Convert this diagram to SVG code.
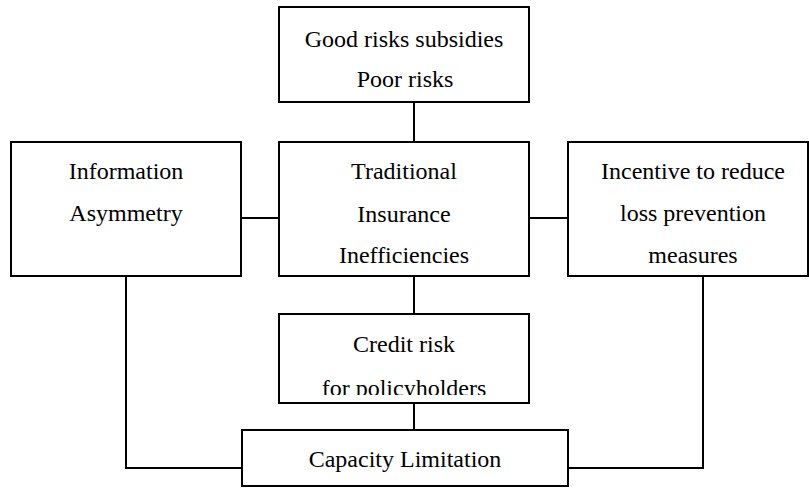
<svg xmlns="http://www.w3.org/2000/svg" width="809" height="488" viewBox="0 0 809 488">
  <style>
    .box { fill: #ffffff; stroke: #000000; stroke-width: 2; }
    .wire { fill: none; stroke: #000000; stroke-width: 2; }
    text { font-family: 'Liberation Serif', 'Times New Roman', Times, 'DejaVu Serif', serif; font-size: 24px; fill: #000000; text-anchor: middle; }
  </style>
  <defs>
    <clipPath id="credit-clip">
      <rect x="280" y="315" width="248" height="80"/>
    </clipPath>
  </defs>
  <rect width="809" height="488" fill="#ffffff"/>

  <g id="connectors">
    <line class="wire" x1="414" y1="102" x2="414" y2="142"/>
    <line class="wire" x1="241" y1="218" x2="279" y2="218"/>
    <line class="wire" x1="529" y1="218" x2="568" y2="218"/>
    <line class="wire" x1="414" y1="276" x2="414" y2="314"/>
    <line class="wire" x1="414" y1="403" x2="414" y2="430"/>
    <polyline class="wire" points="126,276 126,468 242,468"/>
    <polyline class="wire" points="703,276 703,468 568,468"/>
  </g>

  <g id="node-subsidies">
    <rect class="box" x="279" y="7" width="250" height="95"/>
    <text x="404" y="47">Good risks subsidies</text>
    <text x="405" y="87">Poor risks</text>
  </g>

  <g id="node-information">
    <rect class="box" x="11" y="142" width="230" height="134"/>
    <text x="126" y="179">Information</text>
    <text x="126" y="221">Asymmetry</text>
  </g>

  <g id="node-traditional">
    <rect class="box" x="279" y="142" width="250" height="134"/>
    <text x="404" y="179">Traditional</text>
    <text x="404" y="222">Insurance</text>
    <text x="404" y="263">Inefficiencies</text>
  </g>

  <g id="node-incentive">
    <rect class="box" x="568" y="142" width="240" height="134"/>
    <text x="693" y="179">Incentive to reduce</text>
    <text x="693" y="221">loss prevention</text>
    <text x="693" y="263">measures</text>
  </g>

  <g id="node-credit">
    <rect class="box" x="279" y="314" width="250" height="89"/>
    <text x="404" y="352">Credit risk</text>
    <text x="404" y="396" clip-path="url(#credit-clip)">for policyholders</text>
  </g>

  <g id="node-capacity">
    <rect class="box" x="242" y="430" width="326" height="56"/>
    <text x="405" y="467">Capacity Limitation</text>
  </g>
</svg>
